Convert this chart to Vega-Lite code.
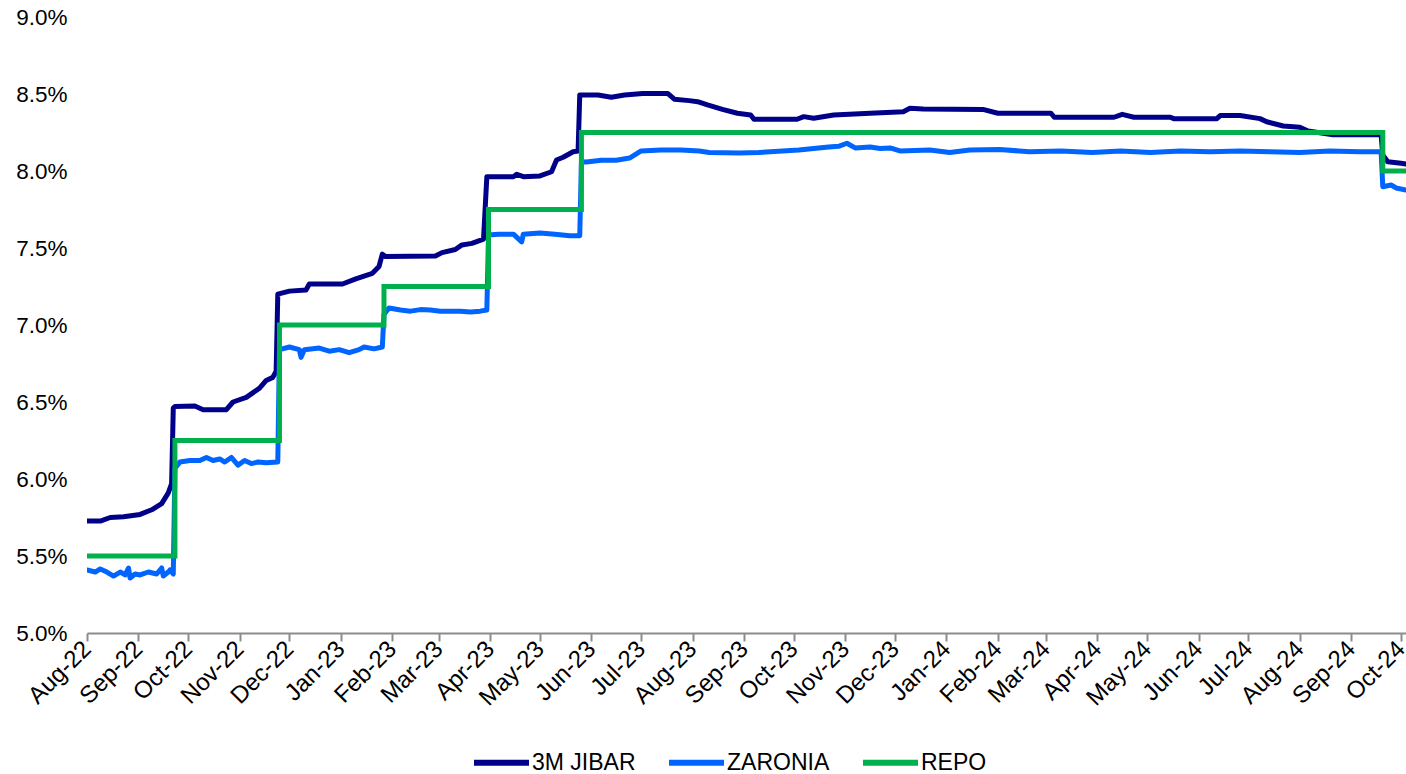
{
  "$schema": "https://vega.github.io/schema/vega-lite/v6.json",
  "width": 1319,
  "height": 616,
  "autosize": {"type": "none"},
  "padding": {"left": 87, "top": 17, "right": 0, "bottom": 141},
  "background": "white",
  "config": {
    "view": {"stroke": null},
    "font": "Liberation Sans",
    "axis": {"grid": false, "title": null, "labelFont": "Liberation Sans", "labelColor": "#000000", "labelFontSize": 22.5}
  },
  "datasets": {
    "rates": [
      {"d": "2022-08-01", "s": "3M JIBAR", "v": 5.727},
      {"d": "2022-08-09", "s": "3M JIBAR", "v": 5.727},
      {"d": "2022-08-15", "s": "3M JIBAR", "v": 5.75},
      {"d": "2022-08-23", "s": "3M JIBAR", "v": 5.755},
      {"d": "2022-09-02", "s": "3M JIBAR", "v": 5.77},
      {"d": "2022-09-09", "s": "3M JIBAR", "v": 5.8},
      {"d": "2022-09-15", "s": "3M JIBAR", "v": 5.84},
      {"d": "2022-09-19", "s": "3M JIBAR", "v": 5.91},
      {"d": "2022-09-21", "s": "3M JIBAR", "v": 5.97},
      {"d": "2022-09-22", "s": "3M JIBAR", "v": 6.46},
      {"d": "2022-09-23", "s": "3M JIBAR", "v": 6.47},
      {"d": "2022-10-05", "s": "3M JIBAR", "v": 6.474},
      {"d": "2022-10-10", "s": "3M JIBAR", "v": 6.45},
      {"d": "2022-10-24", "s": "3M JIBAR", "v": 6.45},
      {"d": "2022-10-28", "s": "3M JIBAR", "v": 6.5},
      {"d": "2022-11-05", "s": "3M JIBAR", "v": 6.53},
      {"d": "2022-11-13", "s": "3M JIBAR", "v": 6.59},
      {"d": "2022-11-17", "s": "3M JIBAR", "v": 6.64},
      {"d": "2022-11-21", "s": "3M JIBAR", "v": 6.66},
      {"d": "2022-11-23", "s": "3M JIBAR", "v": 6.7},
      {"d": "2022-11-24", "s": "3M JIBAR", "v": 7.2},
      {"d": "2022-12-01", "s": "3M JIBAR", "v": 7.22},
      {"d": "2022-12-11", "s": "3M JIBAR", "v": 7.227},
      {"d": "2022-12-13", "s": "3M JIBAR", "v": 7.266},
      {"d": "2023-01-02", "s": "3M JIBAR", "v": 7.266},
      {"d": "2023-01-10", "s": "3M JIBAR", "v": 7.3},
      {"d": "2023-01-20", "s": "3M JIBAR", "v": 7.336},
      {"d": "2023-01-24", "s": "3M JIBAR", "v": 7.38},
      {"d": "2023-01-26", "s": "3M JIBAR", "v": 7.46},
      {"d": "2023-01-28", "s": "3M JIBAR", "v": 7.444},
      {"d": "2023-02-27", "s": "3M JIBAR", "v": 7.448},
      {"d": "2023-03-03", "s": "3M JIBAR", "v": 7.47},
      {"d": "2023-03-11", "s": "3M JIBAR", "v": 7.49},
      {"d": "2023-03-15", "s": "3M JIBAR", "v": 7.52},
      {"d": "2023-03-21", "s": "3M JIBAR", "v": 7.53},
      {"d": "2023-03-28", "s": "3M JIBAR", "v": 7.558},
      {"d": "2023-03-30", "s": "3M JIBAR", "v": 7.963},
      {"d": "2023-04-15", "s": "3M JIBAR", "v": 7.963},
      {"d": "2023-04-17", "s": "3M JIBAR", "v": 7.979},
      {"d": "2023-04-21", "s": "3M JIBAR", "v": 7.963},
      {"d": "2023-05-01", "s": "3M JIBAR", "v": 7.968},
      {"d": "2023-05-08", "s": "3M JIBAR", "v": 7.995},
      {"d": "2023-05-11", "s": "3M JIBAR", "v": 8.071},
      {"d": "2023-05-15", "s": "3M JIBAR", "v": 8.089},
      {"d": "2023-05-21", "s": "3M JIBAR", "v": 8.125},
      {"d": "2023-05-24", "s": "3M JIBAR", "v": 8.13},
      {"d": "2023-05-25", "s": "3M JIBAR", "v": 8.494},
      {"d": "2023-06-05", "s": "3M JIBAR", "v": 8.494},
      {"d": "2023-06-13", "s": "3M JIBAR", "v": 8.479},
      {"d": "2023-06-21", "s": "3M JIBAR", "v": 8.494},
      {"d": "2023-07-02", "s": "3M JIBAR", "v": 8.504},
      {"d": "2023-07-17", "s": "3M JIBAR", "v": 8.504},
      {"d": "2023-07-21", "s": "3M JIBAR", "v": 8.466},
      {"d": "2023-07-30", "s": "3M JIBAR", "v": 8.457},
      {"d": "2023-08-04", "s": "3M JIBAR", "v": 8.45},
      {"d": "2023-08-10", "s": "3M JIBAR", "v": 8.429},
      {"d": "2023-08-19", "s": "3M JIBAR", "v": 8.4},
      {"d": "2023-08-28", "s": "3M JIBAR", "v": 8.375},
      {"d": "2023-09-05", "s": "3M JIBAR", "v": 8.364},
      {"d": "2023-09-07", "s": "3M JIBAR", "v": 8.336},
      {"d": "2023-10-03", "s": "3M JIBAR", "v": 8.336},
      {"d": "2023-10-07", "s": "3M JIBAR", "v": 8.353},
      {"d": "2023-10-13", "s": "3M JIBAR", "v": 8.342},
      {"d": "2023-10-25", "s": "3M JIBAR", "v": 8.364},
      {"d": "2023-11-16", "s": "3M JIBAR", "v": 8.375},
      {"d": "2023-12-06", "s": "3M JIBAR", "v": 8.385},
      {"d": "2023-12-10", "s": "3M JIBAR", "v": 8.407},
      {"d": "2023-12-18", "s": "3M JIBAR", "v": 8.403},
      {"d": "2024-01-23", "s": "3M JIBAR", "v": 8.4},
      {"d": "2024-02-01", "s": "3M JIBAR", "v": 8.375},
      {"d": "2024-03-04", "s": "3M JIBAR", "v": 8.375},
      {"d": "2024-03-06", "s": "3M JIBAR", "v": 8.349},
      {"d": "2024-04-11", "s": "3M JIBAR", "v": 8.349},
      {"d": "2024-04-16", "s": "3M JIBAR", "v": 8.368},
      {"d": "2024-04-23", "s": "3M JIBAR", "v": 8.349},
      {"d": "2024-05-15", "s": "3M JIBAR", "v": 8.349},
      {"d": "2024-05-17", "s": "3M JIBAR", "v": 8.34},
      {"d": "2024-06-12", "s": "3M JIBAR", "v": 8.34},
      {"d": "2024-06-14", "s": "3M JIBAR", "v": 8.36},
      {"d": "2024-06-26", "s": "3M JIBAR", "v": 8.36},
      {"d": "2024-07-08", "s": "3M JIBAR", "v": 8.34},
      {"d": "2024-07-12", "s": "3M JIBAR", "v": 8.32},
      {"d": "2024-07-22", "s": "3M JIBAR", "v": 8.292},
      {"d": "2024-08-01", "s": "3M JIBAR", "v": 8.284},
      {"d": "2024-08-06", "s": "3M JIBAR", "v": 8.26},
      {"d": "2024-08-21", "s": "3M JIBAR", "v": 8.235},
      {"d": "2024-09-19", "s": "3M JIBAR", "v": 8.235},
      {"d": "2024-09-20", "s": "3M JIBAR", "v": 8.104},
      {"d": "2024-09-23", "s": "3M JIBAR", "v": 8.06},
      {"d": "2024-10-01", "s": "3M JIBAR", "v": 8.05},
      {"d": "2024-10-04", "s": "3M JIBAR", "v": 8.045},

      {"d": "2022-08-01", "s": "ZARONIA", "v": 5.409},
      {"d": "2022-08-06", "s": "ZARONIA", "v": 5.396},
      {"d": "2022-08-09", "s": "ZARONIA", "v": 5.416},
      {"d": "2022-08-13", "s": "ZARONIA", "v": 5.396},
      {"d": "2022-08-17", "s": "ZARONIA", "v": 5.37},
      {"d": "2022-08-21", "s": "ZARONIA", "v": 5.396},
      {"d": "2022-08-24", "s": "ZARONIA", "v": 5.377},
      {"d": "2022-08-26", "s": "ZARONIA", "v": 5.422},
      {"d": "2022-08-27", "s": "ZARONIA", "v": 5.357},
      {"d": "2022-08-30", "s": "ZARONIA", "v": 5.383},
      {"d": "2022-09-02", "s": "ZARONIA", "v": 5.377},
      {"d": "2022-09-07", "s": "ZARONIA", "v": 5.396},
      {"d": "2022-09-12", "s": "ZARONIA", "v": 5.383},
      {"d": "2022-09-15", "s": "ZARONIA", "v": 5.422},
      {"d": "2022-09-16", "s": "ZARONIA", "v": 5.37},
      {"d": "2022-09-19", "s": "ZARONIA", "v": 5.396},
      {"d": "2022-09-20", "s": "ZARONIA", "v": 5.409},
      {"d": "2022-09-22", "s": "ZARONIA", "v": 5.383},
      {"d": "2022-09-23", "s": "ZARONIA", "v": 6.07},
      {"d": "2022-09-26", "s": "ZARONIA", "v": 6.11},
      {"d": "2022-10-02", "s": "ZARONIA", "v": 6.12},
      {"d": "2022-10-08", "s": "ZARONIA", "v": 6.12},
      {"d": "2022-10-12", "s": "ZARONIA", "v": 6.14},
      {"d": "2022-10-16", "s": "ZARONIA", "v": 6.12},
      {"d": "2022-10-20", "s": "ZARONIA", "v": 6.13},
      {"d": "2022-10-23", "s": "ZARONIA", "v": 6.11},
      {"d": "2022-10-27", "s": "ZARONIA", "v": 6.14},
      {"d": "2022-10-31", "s": "ZARONIA", "v": 6.09},
      {"d": "2022-11-04", "s": "ZARONIA", "v": 6.12},
      {"d": "2022-11-08", "s": "ZARONIA", "v": 6.1},
      {"d": "2022-11-12", "s": "ZARONIA", "v": 6.11},
      {"d": "2022-11-17", "s": "ZARONIA", "v": 6.105},
      {"d": "2022-11-24", "s": "ZARONIA", "v": 6.11},
      {"d": "2022-11-25", "s": "ZARONIA", "v": 6.84},
      {"d": "2022-12-01", "s": "ZARONIA", "v": 6.857},
      {"d": "2022-12-07", "s": "ZARONIA", "v": 6.84},
      {"d": "2022-12-08", "s": "ZARONIA", "v": 6.79},
      {"d": "2022-12-10", "s": "ZARONIA", "v": 6.84},
      {"d": "2022-12-19", "s": "ZARONIA", "v": 6.85},
      {"d": "2022-12-25", "s": "ZARONIA", "v": 6.83},
      {"d": "2022-12-31", "s": "ZARONIA", "v": 6.84},
      {"d": "2023-01-06", "s": "ZARONIA", "v": 6.82},
      {"d": "2023-01-12", "s": "ZARONIA", "v": 6.84},
      {"d": "2023-01-15", "s": "ZARONIA", "v": 6.857},
      {"d": "2023-01-21", "s": "ZARONIA", "v": 6.845},
      {"d": "2023-01-26", "s": "ZARONIA", "v": 6.857},
      {"d": "2023-01-27", "s": "ZARONIA", "v": 7.07},
      {"d": "2023-01-30", "s": "ZARONIA", "v": 7.11},
      {"d": "2023-02-06", "s": "ZARONIA", "v": 7.097},
      {"d": "2023-02-12", "s": "ZARONIA", "v": 7.09},
      {"d": "2023-02-18", "s": "ZARONIA", "v": 7.1},
      {"d": "2023-02-24", "s": "ZARONIA", "v": 7.097},
      {"d": "2023-03-02", "s": "ZARONIA", "v": 7.09},
      {"d": "2023-03-08", "s": "ZARONIA", "v": 7.09},
      {"d": "2023-03-14", "s": "ZARONIA", "v": 7.09},
      {"d": "2023-03-20", "s": "ZARONIA", "v": 7.084},
      {"d": "2023-03-26", "s": "ZARONIA", "v": 7.09},
      {"d": "2023-03-30", "s": "ZARONIA", "v": 7.097},
      {"d": "2023-03-31", "s": "ZARONIA", "v": 7.584},
      {"d": "2023-04-06", "s": "ZARONIA", "v": 7.59},
      {"d": "2023-04-15", "s": "ZARONIA", "v": 7.59},
      {"d": "2023-04-20", "s": "ZARONIA", "v": 7.54},
      {"d": "2023-04-21", "s": "ZARONIA", "v": 7.59},
      {"d": "2023-05-01", "s": "ZARONIA", "v": 7.597},
      {"d": "2023-05-10", "s": "ZARONIA", "v": 7.59},
      {"d": "2023-05-19", "s": "ZARONIA", "v": 7.58},
      {"d": "2023-05-25", "s": "ZARONIA", "v": 7.58},
      {"d": "2023-05-26", "s": "ZARONIA", "v": 8.06},
      {"d": "2023-05-29", "s": "ZARONIA", "v": 8.058},
      {"d": "2023-06-07", "s": "ZARONIA", "v": 8.07},
      {"d": "2023-06-16", "s": "ZARONIA", "v": 8.07},
      {"d": "2023-06-24", "s": "ZARONIA", "v": 8.084},
      {"d": "2023-07-01", "s": "ZARONIA", "v": 8.13},
      {"d": "2023-07-13", "s": "ZARONIA", "v": 8.136},
      {"d": "2023-07-25", "s": "ZARONIA", "v": 8.136},
      {"d": "2023-08-05", "s": "ZARONIA", "v": 8.13},
      {"d": "2023-08-11", "s": "ZARONIA", "v": 8.12},
      {"d": "2023-08-29", "s": "ZARONIA", "v": 8.117},
      {"d": "2023-09-10", "s": "ZARONIA", "v": 8.12},
      {"d": "2023-10-04", "s": "ZARONIA", "v": 8.136},
      {"d": "2023-10-22", "s": "ZARONIA", "v": 8.156},
      {"d": "2023-10-28", "s": "ZARONIA", "v": 8.16},
      {"d": "2023-11-02", "s": "ZARONIA", "v": 8.18},
      {"d": "2023-11-07", "s": "ZARONIA", "v": 8.15},
      {"d": "2023-11-16", "s": "ZARONIA", "v": 8.156},
      {"d": "2023-11-22", "s": "ZARONIA", "v": 8.146},
      {"d": "2023-11-28", "s": "ZARONIA", "v": 8.15},
      {"d": "2023-12-04", "s": "ZARONIA", "v": 8.13},
      {"d": "2023-12-22", "s": "ZARONIA", "v": 8.136},
      {"d": "2024-01-03", "s": "ZARONIA", "v": 8.12},
      {"d": "2024-01-15", "s": "ZARONIA", "v": 8.136},
      {"d": "2024-02-02", "s": "ZARONIA", "v": 8.14},
      {"d": "2024-02-20", "s": "ZARONIA", "v": 8.125},
      {"d": "2024-03-10", "s": "ZARONIA", "v": 8.13},
      {"d": "2024-03-29", "s": "ZARONIA", "v": 8.12},
      {"d": "2024-04-15", "s": "ZARONIA", "v": 8.13},
      {"d": "2024-05-03", "s": "ZARONIA", "v": 8.12},
      {"d": "2024-05-21", "s": "ZARONIA", "v": 8.13},
      {"d": "2024-06-08", "s": "ZARONIA", "v": 8.125},
      {"d": "2024-06-26", "s": "ZARONIA", "v": 8.13},
      {"d": "2024-07-14", "s": "ZARONIA", "v": 8.125},
      {"d": "2024-08-01", "s": "ZARONIA", "v": 8.12},
      {"d": "2024-08-19", "s": "ZARONIA", "v": 8.13},
      {"d": "2024-09-06", "s": "ZARONIA", "v": 8.125},
      {"d": "2024-09-19", "s": "ZARONIA", "v": 8.125},
      {"d": "2024-09-20", "s": "ZARONIA", "v": 7.898},
      {"d": "2024-09-25", "s": "ZARONIA", "v": 7.909},
      {"d": "2024-09-28", "s": "ZARONIA", "v": 7.89},
      {"d": "2024-10-04", "s": "ZARONIA", "v": 7.877},

      {"d": "2022-08-01", "s": "REPO", "v": 5.5},
      {"d": "2022-09-23", "s": "REPO", "v": 6.25},
      {"d": "2022-11-25", "s": "REPO", "v": 7.0},
      {"d": "2023-01-27", "s": "REPO", "v": 7.25},
      {"d": "2023-03-31", "s": "REPO", "v": 7.75},
      {"d": "2023-05-26", "s": "REPO", "v": 8.25},
      {"d": "2024-09-20", "s": "REPO", "v": 8.0},
      {"d": "2024-10-04", "s": "REPO", "v": 8.0}
    ]
  },
  "data": {"name": "rates"},
  "encoding": {
    "x": {
      "field": "d",
      "type": "temporal",
      "scale": {"type": "utc", "domain": ["2022-08-01", "2024-10-04"], "nice": false},
      "axis": {
        "format": "%b-%y",
        "tickCount": {"interval": "month", "step": 1},
        "domainColor": "#8c8c8c",
        "domainWidth": 2,
        "tickColor": "#8c8c8c",
        "tickWidth": 2,
        "tickSize": 8,
        "labelAngle": -45,
        "labelAlign": "right",
        "labelBaseline": "middle",
        "labelFontSize": 24,
        "labelPadding": 4,
        "labelDx": -2,
        "labelOverlap": false,
        "labelFlush": false,
        "labelBound": false
      }
    },
    "y": {
      "field": "v",
      "type": "quantitative",
      "scale": {"domain": [5, 9], "zero": false, "nice": false},
      "axis": {
        "values": [5, 5.5, 6, 6.5, 7, 7.5, 8, 8.5, 9],
        "labelExpr": "format(datum.value, '.1f') + '%'",
        "domain": false,
        "ticks": false,
        "labelPadding": 20
      }
    },
    "color": {
      "field": "s",
      "type": "nominal",
      "sort": ["3M JIBAR", "ZARONIA", "REPO"],
      "scale": {"domain": ["3M JIBAR", "ZARONIA", "REPO"], "range": ["#000088", "#0064ff", "#00b04c"]},
      "legend": {
        "title": null,
        "orient": "none",
        "direction": "horizontal",
        "legendX": 384,
        "legendY": 715,
        "symbolType": "stroke",
        "symbolSize": 3025,
        "symbolStrokeWidth": 6,
        "labelFontSize": 23,
        "labelFont": "Liberation Sans",
        "labelColor": "#000000",
        "labelOffset": 0,
        "columnPadding": 21,
        "padding": 0
      }
    }
  },
  "layer": [
    {
      "transform": [{"filter": "datum.s !== 'REPO'"}],
      "mark": {"type": "line", "strokeWidth": 5, "strokeJoin": "round", "strokeCap": "round", "clip": true}
    },
    {
      "transform": [{"filter": "datum.s === 'REPO'"}],
      "mark": {"type": "line", "strokeWidth": 5, "interpolate": "step-after", "strokeJoin": "miter", "clip": true}
    }
  ]
}
